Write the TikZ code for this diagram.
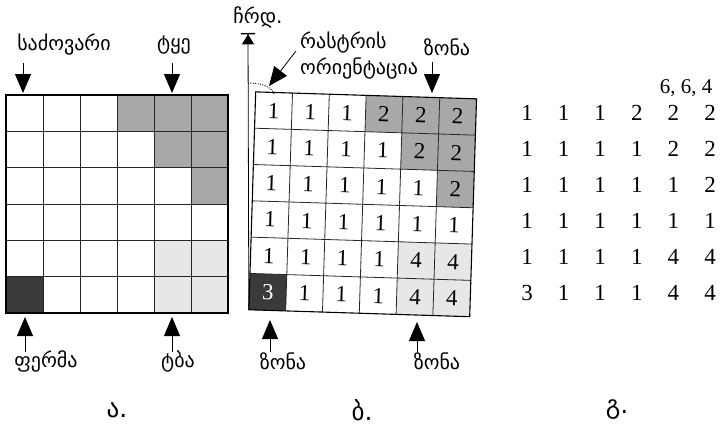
\documentclass[tikz,border=0pt]{standalone}
\usepackage{fontspec}
\setmainfont{Liberation Serif}
\newfontfamily\geofont{DejaVu Sans}
\usetikzlibrary{arrows.meta}

\definecolor{zonegray}{HTML}{A7A8AA}
\definecolor{lakegray}{HTML}{E6E7E8}
\definecolor{farmgray}{HTML}{3A3A3A}

\tikzset{
  lbl/.style={inner sep=0pt, font=\geofont\fontsize{20}{24}\selectfont},
  caption/.style={inner sep=0pt, font=\geofont\fontsize{25}{30}\selectfont},
  num/.style={inner sep=0pt, font=\fontsize{23}{26}\selectfont},
  gridline/.style={draw=black!85, line width=0.8pt},
  gridframe/.style={draw=black, line width=1.1pt},
  pointer/.style={line width=0.8pt, -{Triangle[length=19pt,width=16pt]}},
}

\begin{document}
\begin{tikzpicture}[x=1pt,y=-1pt]
\useasboundingbox (0,0) rectangle (721,432);

% ---------- land use grid ----------
\def\cw{37}\def\ch{36.33}
\begin{scope}[shift={(6,95)}]
  \foreach \r/\c in {0/3,0/4,0/5,1/4,1/5,2/5}
    \fill[zonegray] (\c*\cw,\r*\ch) rectangle ++(\cw,\ch);
  \foreach \r/\c in {4/4,4/5,5/4,5/5}
    \fill[lakegray] (\c*\cw,\r*\ch) rectangle ++(\cw,\ch);
  \fill[farmgray] (0,5*\ch) rectangle ++(\cw,\ch);
  \foreach \i in {1,...,5} {
    \draw[gridline] (\i*\cw,0) -- (\i*\cw,6*\ch);
    \draw[gridline] (0,\i*\ch) -- (6*\cw,\i*\ch);
  }
  \draw[gridframe] (0,0) rectangle (6*\cw,6*\ch);
\end{scope}

\node[lbl] (pasture) at (64,45) {საძოვარი};
\node[lbl] (forest) at (174,45) {ტყე};
\node[lbl] (farm) at (46,361) {ფერმა};
\node[lbl] (lake) at (178,361) {ტბა};
\coordinate (pastureTail) at (23,63);
\coordinate (pastureTip) at (23,93);
\coordinate (forestTail) at (172,63);
\coordinate (forestTip) at (172,93);
\coordinate (farmTail) at (25,352);
\coordinate (farmTip) at (25,317);
\coordinate (lakeTail) at (172,352);
\coordinate (lakeTip) at (172,317);
\draw[pointer] (pastureTail) -- (pastureTip);
\draw[pointer] (forestTail) -- (forestTip);
\draw[pointer] (farmTail) -- (farmTip);
\draw[pointer] (lakeTail) -- (lakeTip);

% ---------- rotated raster with zone codes ----------
\def\bw{36.83}\def\bh{36.33}
\begin{scope}[shift={(362.7,204.3)}, rotate=-1.8, shift={(-110.5,-109)}]
  \foreach \r/\c in {0/3,0/4,0/5,1/4,1/5,2/5}
    \fill[zonegray] (\c*\bw,\r*\bh) rectangle ++(\bw,\bh);
  \foreach \r/\c in {4/4,4/5,5/4,5/5}
    \fill[lakegray] (\c*\bw,\r*\bh) rectangle ++(\bw,\bh);
  \fill[farmgray] (0,5*\bh) rectangle ++(\bw,\bh);
  \foreach \i in {1,...,5} {
    \draw[gridline] (\i*\bw,0) -- (\i*\bw,6*\bh);
    \draw[gridline] (0,\i*\bh) -- (6*\bw,\i*\bh);
  }
  \draw[gridframe] (0,0) rectangle (6*\bw,6*\bh);
  \coordinate (rasterNW) at (0,0);
  \coordinate (rasterSW) at (0,6*\bh);
  \foreach \row [count=\r from 0] in {{1,1,1,2,2,2},{1,1,1,1,2,2},{1,1,1,1,1,2},
                                       {1,1,1,1,1,1},{1,1,1,1,4,4},{3,1,1,1,4,4}} {
    \foreach \v [count=\c from 0] in \row {
      \ifnum\r=5 \ifnum\c=0
        \node[num, text=white, rotate=-1.8] (b-\r-\c) at (\c*\bw+0.5*\bw,\r*\bh+0.5*\bh) {\v};
      \else
        \node[num, rotate=-1.8] (b-\r-\c) at (\c*\bw+0.5*\bw,\r*\bh+0.5*\bh) {\v};
      \fi\else
        \node[num, rotate=-1.8] (b-\r-\c) at (\c*\bw+0.5*\bw,\r*\bh+0.5*\bh) {\v};
      \fi
    }
  }
\end{scope}

% north reference line
\coordinate (northTop) at (248,33);
\draw[line width=0.8pt, -{Triangle[length=10pt,width=12pt] Bar[width=14pt,line width=1.3pt]}]
  (rasterSW) -- (northTop);
\node[lbl] (north) at (258,17) {ჩრდ.};

% orientation angle
\coordinate (arcStart) at (248,83);
\coordinate (arcEnd) at (274,94);
\draw[line width=0.9pt, dash pattern=on 1pt off 1.4pt]
  (arcStart) .. controls (262,83) and (272,87) .. (arcEnd);
\node[lbl, anchor=west] (orientA) at (300,43) {რასტრის};
\node[lbl, anchor=west] (orientB) at (300,69) {ორიენტაცია};
\coordinate (orientTail) at (296,51);
\coordinate (orientTip) at (269,86);
\draw[pointer] (orientTail) -- (orientTip);

\node[lbl] (zoneTop) at (447,47) {ზონა};
\coordinate (zoneTopTail) at (432,62);
\coordinate (zoneTopTip) at (432,93);
\draw[pointer] (zoneTopTail) -- (zoneTopTip);

\node[lbl] (zoneFarm) at (283,361) {ზონა};
\node[lbl] (zoneLake) at (437,361) {ზონა};
\coordinate (zoneFarmTail) at (270,352);
\coordinate (zoneFarmTip) at (270,320);
\coordinate (zoneLakeTail) at (417,352);
\coordinate (zoneLakeTip) at (417,322);
\draw[pointer] (zoneFarmTail) -- (zoneFarmTip);
\draw[pointer] (zoneLakeTail) -- (zoneLakeTip);

% ---------- zone codes as a text matrix ----------
\node[inner sep=0pt, font=\fontsize{21}{24}\selectfont] (header) at (686,88) {6, 6, 4};
\foreach \row [count=\r from 0] in {{1,1,1,2,2,2},{1,1,1,1,2,2},{1,1,1,1,1,2},
                                     {1,1,1,1,1,1},{1,1,1,1,4,4},{3,1,1,1,4,4}} {
  \foreach \v [count=\c from 0] in \row {
    \node[num] (c-\r-\c) at (527+\c*36.6, 113+\r*36) {\v};
  }
}

% ---------- captions ----------
\node[caption] (capA) at (117,410) {ა.};
\node[caption] (capB) at (362,410) {ბ.};
\node[caption] (capC) at (617,410) {გ.};
\end{tikzpicture}
\end{document}
